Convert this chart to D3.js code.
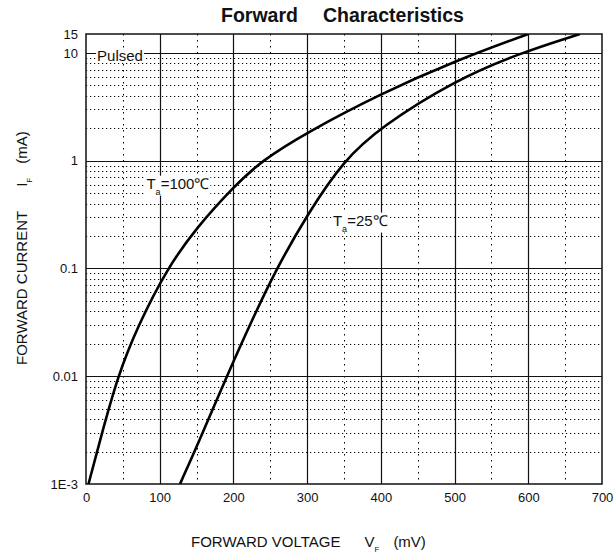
<!DOCTYPE html>
<html>
<head>
<meta charset="utf-8">
<script src="https://cdn.jsdelivr.net/npm/d3@7"></script>
<style>
  body { margin: 0; background: #fff; }
  svg { font-family: "Liberation Sans", Arial, sans-serif; }
</style>
</head>
<body>
<div id="chart"></div>
<script>
// tick values
var xTicks = [0, 100, 200, 300, 400, 500, 600, 700];
var yTicks = [0.001, 0.01, 0.1, 1, 10, 15];
var yTickLabels = ["1E-3", "0.01", "0.1", "1", "10", "15"];

// curves: [mV, mA]
var ta100 = [[3.4, 0.001], [20, 0.0027], [43, 0.01], [70, 0.029], [110, 0.1], [150, 0.24],
             [200, 0.57], [238, 1], [300, 1.84], [400, 4.2], [500, 8.4], [600, 15]];
var ta25 = [[127.5, 0.001], [150, 0.0022], [191, 0.01], [225, 0.033], [258.5, 0.1], [300, 0.315],
            [349, 1], [400, 2.06], [500, 5.56], [589, 10], [670, 15]];

var margins = { top: 34, left: 86, right: 11, bottom: 73 };
var W = 613, H = 557;
var width = W - margins.left - margins.right;
var height = H - margins.top - margins.bottom;

var svg = d3.select('#chart').append('svg')
        .attr('width', W)
        .attr('height', H);

var xScale = d3.scaleLinear().domain([0, 700]).range([0, width]);
var yScale = d3.scaleLog().domain([0.001, 15]).range([height, 0]);

var g = svg.append('g')
        .attr('transform', 'translate(' + margins.left + ',' + margins.top + ')');

// minor grid (dotted)
var xMinor = d3.range(50, 700, 100);
var yMinor = [];
[0.001, 0.01, 0.1, 1].forEach(function (d) {
        for (var k = 2; k <= 9; k++) yMinor.push(d * k);
});
g.selectAll('line.vminor').data(xMinor).enter().append('line')
        .attr('x1', function (d) { return Math.round(xScale(d)) + 0.5; })
        .attr('x2', function (d) { return Math.round(xScale(d)) + 0.5; })
        .attr('y1', 0).attr('y2', height)
        .attr('stroke', '#000').attr('stroke-width', 1)
        .attr('stroke-dasharray', '1.5,4.5');
g.selectAll('line.hminor').data(yMinor).enter().append('line')
        .attr('x1', 0).attr('x2', width)
        .attr('y1', function (d) { return Math.round(yScale(d)) + 0.5; })
        .attr('y2', function (d) { return Math.round(yScale(d)) + 0.5; })
        .attr('stroke', '#000').attr('stroke-width', 1)
        .attr('stroke-dasharray', '1.2,2.8');

// major grid (solid)
g.selectAll('line.vmajor').data(d3.range(100, 700, 100)).enter().append('line')
        .attr('x1', function (d) { return Math.round(xScale(d)) + 0.5; })
        .attr('x2', function (d) { return Math.round(xScale(d)) + 0.5; })
        .attr('y1', 0).attr('y2', height)
        .attr('stroke', '#111').attr('stroke-width', 1.2);
g.selectAll('line.hmajor').data([0.01, 0.1, 1, 10]).enter().append('line')
        .attr('x1', 0).attr('x2', width)
        .attr('y1', function (d) { return Math.round(yScale(d)) + 0.5; })
        .attr('y2', function (d) { return Math.round(yScale(d)) + 0.5; })
        .attr('stroke', '#111').attr('stroke-width', 1.2);

// frame
g.append('rect')
        .attr('width', width).attr('height', height)
        .attr('fill', 'none').attr('stroke', '#111').attr('stroke-width', 1.5);

// labels with white boxes
function boxedLabel(x, y, main, sub, rest) {
        var t = g.append('text')
                .attr('x', x).attr('y', y)
                .attr('font-size', 15)
                .attr('fill', '#111');
        t.append('tspan').text(main);
        if (sub) {
                t.append('tspan').attr('font-size', 9).attr('dy', 6).text(sub);
                t.append('tspan').attr('dy', -6).text(rest);
        }
        var b = t.node().getBBox();
        g.insert('rect', function () { return t.node(); })
                .attr('x', b.x - 1).attr('y', b.y + 1)
                .attr('width', b.width + 2).attr('height', b.height - 2)
                .attr('fill', '#fff');
}
boxedLabel(xScale(15), yScale(10) + 8, 'Pulsed');
boxedLabel(xScale(82), yScale(0.55), 'T', 'a', '=100\u2103');
boxedLabel(xScale(335), yScale(0.25), 'T', 'a', '=25\u2103');

// curves
svg.append('clipPath').attr('id', 'plotclip')
        .append('rect').attr('width', width).attr('height', height);
var line = d3.line()
        .x(function (d) { return xScale(d[0]); })
        .y(function (d) { return yScale(d[1]); })
        .curve(d3.curveBasis);
[ta100, ta25].forEach(function (s) {
        g.append('path')
                .datum(s)
                .attr('d', line)
                .attr('clip-path', 'url(#plotclip)')
                .attr('fill', 'none')
                .attr('stroke', '#000')
                .attr('stroke-width', 2.6);
});

// axes
var hAxis = d3.axisBottom(xScale).tickValues(xTicks).tickSize(0).tickPadding(9);
var hGuide = g.append('g').attr('transform', 'translate(0,' + height + ')').call(hAxis);
var vAxis = d3.axisLeft(yScale).tickValues(yTicks).tickSize(0).tickPadding(8)
        .tickFormat(function (d, i) { return yTickLabels[i]; });
var vGuide = g.append('g').call(vAxis);
[hGuide, vGuide].forEach(function (a) {
        a.select('.domain').remove();
        a.selectAll('text').attr('font-size', 13).attr('fill', '#111')
                .attr('font-family', '"Liberation Sans", Arial, sans-serif');
});

// title
var title = svg.append('text')
        .attr('x', 221).attr('y', 22)
        .attr('font-size', 19.5).attr('font-weight', 'bold').attr('fill', '#111');
title.append('tspan').text('Forward');
title.append('tspan').attr('dx', 25).text('Characteristics');

// x axis title
var xt = svg.append('text')
        .attr('x', 191).attr('y', 547)
        .attr('font-size', 15).attr('fill', '#111');
xt.append('tspan').text('FORWARD VOLTAGE');
xt.append('tspan').attr('dx', 24).text('V');
xt.append('tspan').attr('font-size', 8).attr('dy', 5).text('F');
xt.append('tspan').attr('font-size', 15).attr('dy', -5).attr('dx', 14).text('(mV)');

// y axis title
var yt = svg.append('text')
        .attr('transform', 'translate(27,' + 365 + ') rotate(-90)')
        .attr('font-size', 15).attr('fill', '#111');
yt.append('tspan').text('FORWARD CURRENT');
yt.append('tspan').attr('dx', 24).text('I');
yt.append('tspan').attr('font-size', 8).attr('dy', 5).text('F');
yt.append('tspan').attr('font-size', 15).attr('dy', -5).attr('dx', 14).text('(mA)');
</script>
</body>
</html>
